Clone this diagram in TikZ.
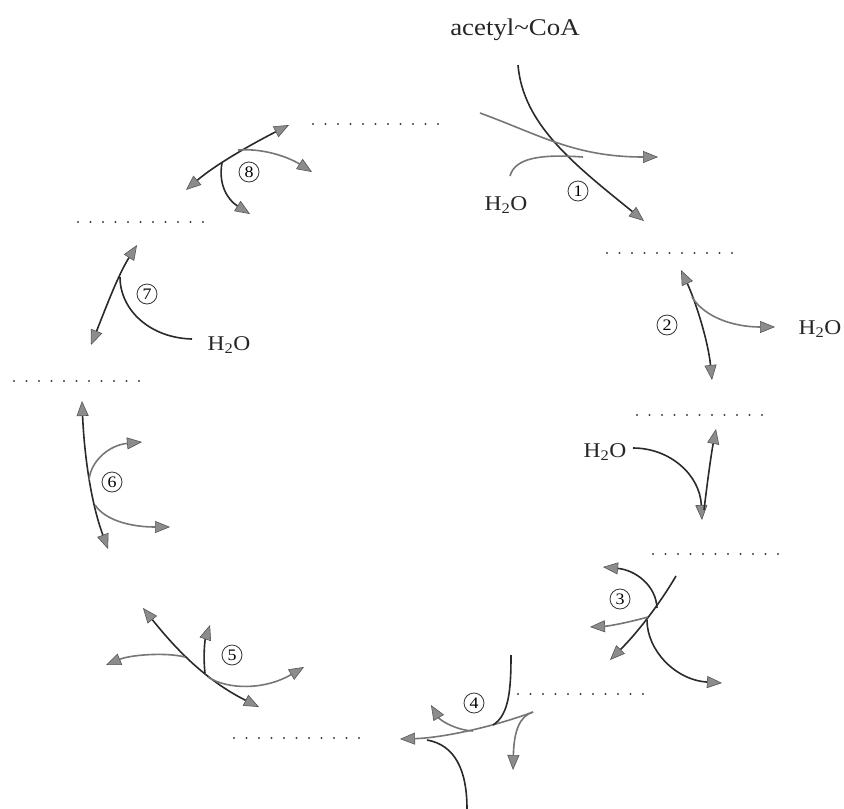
\documentclass[tikz,border=0pt]{standalone}
\usepackage{fontspec}
\setmainfont{Liberation Serif}[FakeStretch=1.12]
\usetikzlibrary{arrows.meta}
\definecolor{dk}{HTML}{2A2A2A}
\definecolor{gr}{HTML}{767676}
\definecolor{tipf}{HTML}{8C8C8C}
\definecolor{tipd}{HTML}{555555}
\begin{document}
\begin{tikzpicture}[x=1pt,y=-1pt,
  gtip/.tip={Triangle[length=15pt,width=12pt,fill=tipf,color=tipd,line width=0.6pt]},
  dark/.style={draw=dk,line width=1.6pt},
  grey/.style={draw=gr,line width=1.6pt},
  blank/.style={draw=black!75,line width=2.2pt,line cap=round,dash pattern=on 0pt off 12.5pt},
  num/.style={circle,draw=black!80,line width=0.8pt,minimum size=20pt,inner sep=0pt,font=\fontsize{16}{16}\selectfont},
  lbl/.style={font=\fontsize{21}{24}\selectfont,text=black!85,inner sep=0pt,anchor=base}]
\useasboundingbox (0,0) rectangle (844,809);

% title
\node[lbl,font=\fontsize{24}{28}\selectfont] (acoa) at (515,35) {acetyl\textasciitilde CoA};

% blanks
\coordinate (b1s) at (313,124);  \coordinate (b1e) at (438.5,124);
\coordinate (b2s) at (78,222);   \coordinate (b2e) at (203.5,222);
\coordinate (b3s) at (607,253);  \coordinate (b3e) at (732.5,253);
\coordinate (b4s) at (637,415);  \coordinate (b4e) at (762.5,415);
\coordinate (b5s) at (653,554);  \coordinate (b5e) at (778.5,554);
\coordinate (b6s) at (14,381);   \coordinate (b6e) at (139.5,381);
\coordinate (b7s) at (518,694);  \coordinate (b7e) at (643.5,694);
\coordinate (b8s) at (234,738);  \coordinate (b8e) at (359.5,738);
\foreach \i in {1,...,8} {\draw[blank] (b\i s) -- (b\i e);}

% step 1
\coordinate (s1a) at (518,65);  \coordinate (s1b) at (644,221);
\coordinate (s1c) at (480,113); \coordinate (s1d) at (658,157);
\coordinate (s1w) at (510,176); \coordinate (s1m) at (583,157);
\draw[dark,-gtip] (s1a) .. controls (523,125) and (575,165) .. (s1b);
\draw[grey,-gtip] (s1c) .. controls (540,135) and (575,157) .. (s1d);
\draw[grey] (s1w) .. controls (515,158) and (540,154) .. (s1m);
\node[lbl] (w1) at (506,210) {H\textsubscript{2}O};
\node[num] (n1) at (578,191) {1};

% step 2
\coordinate (s2a) at (681,270); \coordinate (s2b) at (712,380);
\coordinate (s2c) at (692,297); \coordinate (s2d) at (775,327);
\draw[dark,gtip-gtip] (s2a) .. controls (695,300) and (708,340) .. (s2b);
\draw[grey,-gtip] (s2c) .. controls (705,318) and (735,327) .. (s2d);
\node[lbl] (w2) at (820,334) {H\textsubscript{2}O};
\node[num] (n2) at (667,325) {2};

% step 2b
\coordinate (s2e) at (633,448); \coordinate (s2f) at (702,520);
\coordinate (s2g) at (704,510); \coordinate (s2h) at (716,429);
\draw[dark,-gtip] (s2e) .. controls (670,448) and (700,475) .. (s2f);
\draw[dark,-gtip] (s2g) .. controls (707,485) and (711,455) .. (s2h);
\node[lbl] (w3) at (605,457) {H\textsubscript{2}O};

% step 3
\coordinate (s3a) at (676,576); \coordinate (s3b) at (610,660);
\coordinate (s3c) at (657,608); \coordinate (s3d) at (603,567);
\coordinate (s3e) at (647,620); \coordinate (s3f) at (722,683);
\coordinate (s3g) at (648,617); \coordinate (s3h) at (590,627);
\draw[dark,-gtip] (s3a) .. controls (662,600) and (640,630) .. (s3b);
\draw[dark,-gtip] (s3c) .. controls (656,585) and (635,570) .. (s3d);
\draw[dark,-gtip] (s3e) .. controls (647,650) and (675,680) .. (s3f);
\draw[grey,-gtip] (s3g) .. controls (630,622) and (610,626) .. (s3h);
\node[num] (n3) at (620,599) {3};

% step 4
\coordinate (s4a) at (533,712); \coordinate (s4b) at (400,739);
\coordinate (s4c) at (513,770);
\coordinate (s4d) at (511,655); \coordinate (s4e) at (493,725);
\coordinate (s4f) at (467,809); \coordinate (s4g) at (427,740);
\coordinate (s4h) at (473,731); \coordinate (s4i) at (431,705);
\draw[grey,-gtip] (s4a) .. controls (490,728) and (440,738) .. (s4b);
\draw[grey,-gtip] (s4a) .. controls (520,716) and (514,730) .. (s4c);
\draw[dark] (s4d) .. controls (511,690) and (509,715) .. (s4e);
\draw[dark] (s4f) .. controls (467,770) and (455,745) .. (s4g);
\draw[grey,-gtip] (s4h) .. controls (455,730) and (440,720) .. (s4i);
\node[num] (n4) at (474,703) {4};

% step 5
\coordinate (s5a) at (143,608); \coordinate (s5b) at (259,707);
\coordinate (s5c) at (185,657); \coordinate (s5d) at (106,665);
\coordinate (s5e) at (205,673); \coordinate (s5f) at (210,625);
\coordinate (s5g) at (208,677); \coordinate (s5h) at (304,667);
\draw[dark,gtip-gtip] (s5a) .. controls (175,648) and (205,680) .. (s5b);
\draw[grey,-gtip] (s5c) .. controls (165,652) and (130,655) .. (s5d);
\draw[dark,-gtip] (s5e) .. controls (203,655) and (205,640) .. (s5f);
\draw[grey,-gtip] (s5g) .. controls (228,690) and (265,690) .. (s5h);
\node[num] (n5) at (232,655) {5};

% step 6
\coordinate (s6a) at (82,401); \coordinate (s6b) at (108,549);
\coordinate (s6c) at (89,480); \coordinate (s6d) at (142,442);
\coordinate (s6e) at (95,505); \coordinate (s6f) at (170,527);
\draw[dark,gtip-gtip] (s6a) .. controls (84,450) and (90,500) .. (s6b);
\draw[grey,-gtip] (s6c) .. controls (91,460) and (110,445) .. (s6d);
\draw[grey,-gtip] (s6e) .. controls (105,520) and (130,527) .. (s6f);
\node[num] (n6) at (112,482) {6};

% step 7
\coordinate (s7a) at (91,345); \coordinate (s7b) at (137,245);
\coordinate (s7c) at (192,339); \coordinate (s7d) at (120,277);
\draw[dark,gtip-gtip] (s7a) .. controls (105,310) and (118,275) .. (s7b);
\draw[dark] (s7c) .. controls (150,338) and (120,310) .. (s7d);
\node[lbl] (w7) at (229,350) {H\textsubscript{2}O};
\node[num] (n7) at (147,294) {7};

% step 8
\coordinate (s8a) at (186,190); \coordinate (s8b) at (289,125);
\coordinate (s8c) at (238,150); \coordinate (s8d) at (312,172);
\coordinate (s8e) at (222,163); \coordinate (s8f) at (250,214);
\draw[dark,gtip-gtip] (s8a) .. controls (215,165) and (250,145) .. (s8b);
\draw[grey,-gtip] (s8c) .. controls (265,148) and (290,158) .. (s8d);
\draw[dark,-gtip] (s8e) .. controls (218,185) and (228,200) .. (s8f);
\node[num] (n8) at (249,172) {8};
\end{tikzpicture}
\end{document}
